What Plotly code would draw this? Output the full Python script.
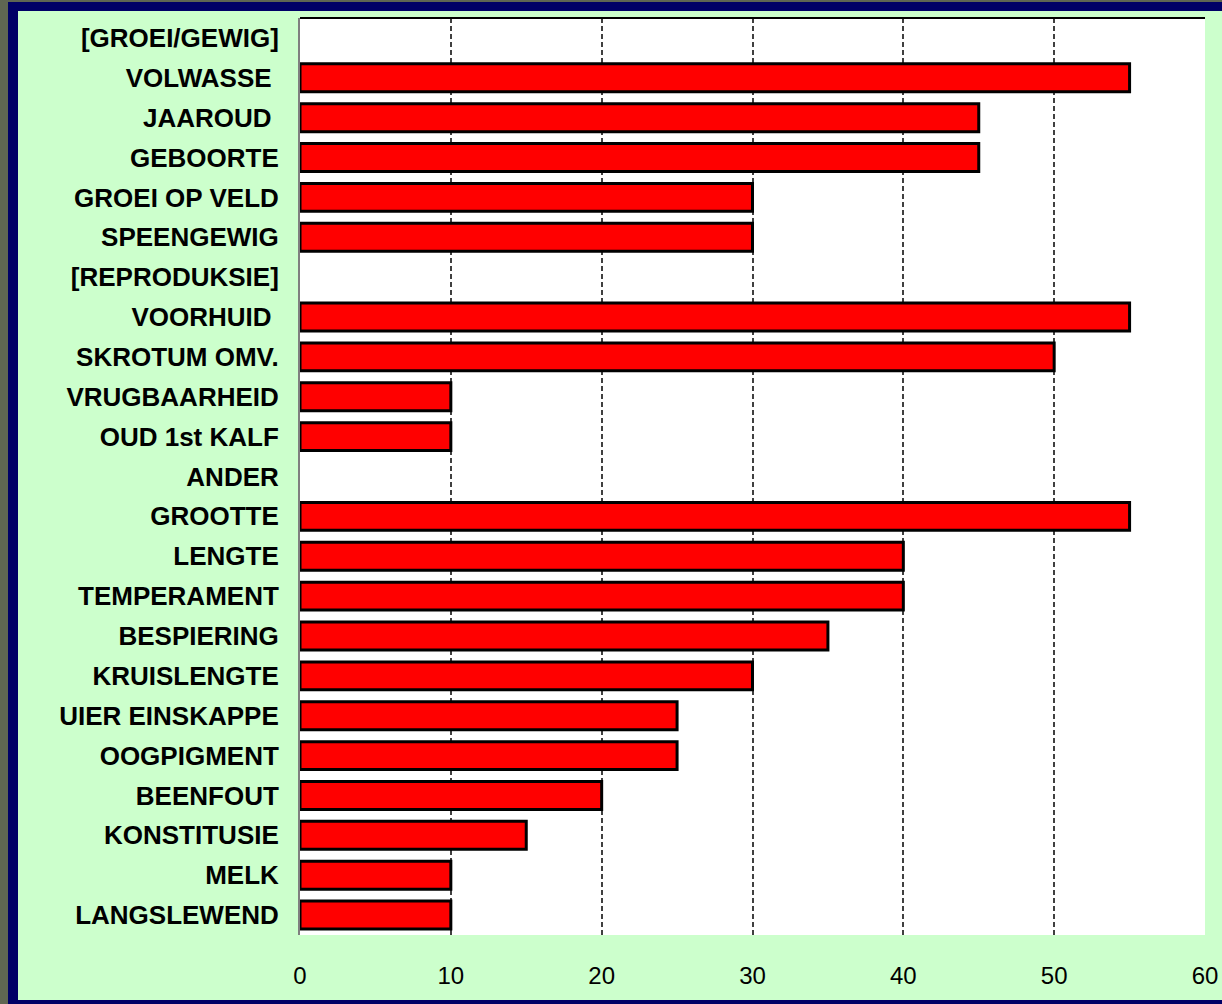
import plotly.graph_objects as go

categories = [
    "[GROEI/GEWIG]", "VOLWASSE\u00a0", "JAAROUD\u00a0", "GEBOORTE", "GROEI OP VELD", "SPEENGEWIG",
    "[REPRODUKSIE]", "VOORHUID\u00a0", "SKROTUM OMV.", "VRUGBAARHEID", "OUD 1st KALF",
    "ANDER", "GROOTTE", "LENGTE", "TEMPERAMENT", "BESPIERING", "KRUISLENGTE",
    "UIER EINSKAPPE", "OOGPIGMENT", "BEENFOUT", "KONSTITUSIE", "MELK", "LANGSLEWEND",
]
values = [
    None, 55, 45, 45, 30, 30,
    None, 55, 50, 10, 10,
    None, 55, 40, 40, 35, 30,
    25, 25, 20, 15, 10, 10,
]
x_ticks = [0, 10, 20, 30, 40, 50, 60]

W, H = 1222, 1004
L, R, T, B = 300, 1205, 18, 935


def px(xp):
    return (xp - L) / (R - L)


def py(yp):
    return (B - yp) / (B - T)


fig = go.Figure(go.Bar(
    x=values, y=categories, orientation="h",
    marker=dict(color="#FF0000", line=dict(color="#000000", width=3)),
    hoverinfo="x+y",
))

shapes = [
    dict(type="rect", xref="paper", yref="paper", x0=px(0), x1=px(8), y0=py(W + 200), y1=py(-50),
         fillcolor="#5f6652", line=dict(width=0), layer="below"),
    dict(type="rect", xref="paper", yref="paper", x0=px(8), x1=px(18), y0=py(1004), y1=py(1),
         fillcolor="#000066", line=dict(width=0), layer="below"),
    dict(type="rect", xref="paper", yref="paper", x0=px(8), x1=px(1222), y0=py(2), y1=py(0),
         fillcolor="#5f6652", line=dict(width=0), layer="below"),
    dict(type="rect", xref="paper", yref="paper", x0=px(8), x1=px(1222), y0=py(11), y1=py(2),
         fillcolor="#000066", line=dict(width=0), layer="below"),
    dict(type="rect", xref="paper", yref="paper", x0=px(8), x1=px(1222), y0=py(1004), y1=py(1000),
         fillcolor="#000066", line=dict(width=0), layer="below"),
    dict(type="line", xref="paper", yref="paper", x0=0, x1=1, y0=1, y1=1,
         line=dict(color="#000000", width=2), layer="above"),
]

fig.update_layout(
    width=W, height=H,
    margin=dict(l=L, r=W - R, t=T, b=H - B),
    paper_bgcolor="#CCFFCC",
    plot_bgcolor="#FFFFFF",
    bargap=0.3,
    showlegend=False,
    shapes=shapes,
    font=dict(family="Liberation Sans, Arial, sans-serif", color="#000000"),
)

fig.update_xaxes(
    range=[0, 60], tickvals=x_ticks, ticktext=[str(v) for v in x_ticks],
    showgrid=True, gridcolor="#404040", gridwidth=2, griddash="5px,3px",
    zeroline=False, showline=False, ticks="", automargin=False,
    tickfont=dict(size=24, color="#000000"),
    ticklabelstandoff=24,
)
fig.update_yaxes(
    autorange="reversed", type="category", automargin=False,
    showgrid=False, zeroline=False,
    showline=True, linecolor="#7f7f7f", linewidth=2,
    ticks="", tickfont=dict(size=26, color="#000000", weight="bold"),
    ticklabelstandoff=14,
)

fig.write_html("out.html")
